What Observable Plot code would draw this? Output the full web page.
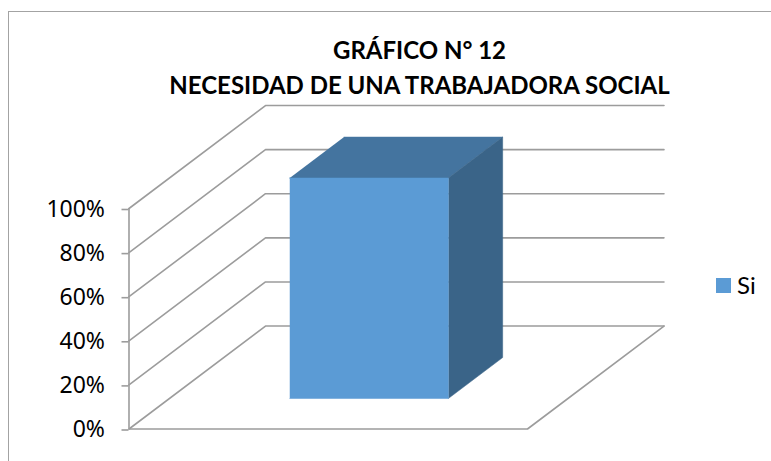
<!DOCTYPE html>
<html>
<head>
<meta charset="utf-8">
<script src="https://cdn.jsdelivr.net/npm/d3@7"></script>
<script src="https://cdn.jsdelivr.net/npm/@observablehq/plot@0.6"></script>
<style>
  html, body { margin: 0; padding: 0; background: #fff; overflow: hidden; }
  #chart { position: relative; width: 771px; height: 461px; font-family: Lato, sans-serif; color: #000; }
  #border { position: absolute; left: 8px; top: 11px; right: -5px; bottom: -5px; border-left: 1.4px solid #a3a3a3; border-top: 1.4px solid #a3a3a3; }
  #title { position: relative; height: 90px; box-sizing: border-box; padding-top: 32px; width: 839px; text-align: center; font-weight: 700; font-size: 24px; line-height: 35px; white-space: nowrap; }
  #legend { position: absolute; left: 716px; top: 270px; display: flex; align-items: center; font-size: 24px; line-height: 30px; }
  #legend i { display: block; width: 15px; height: 15px; background: #5b9bd5; margin-right: 6px; }
  svg { display: block; }
</style>
</head>
<body>
<div id="chart">
  <div id="border"></div>
  <div id="title"></div>
  <div id="legend"></div>
</div>
<script>
// Chart content
const titleLines = ["GRÁFICO N° 12", "NECESIDAD DE UNA TRABAJADORA SOCIAL"];
const categories = ["Si"];
const values = [100];
const yTicks = [0, 20, 40, 60, 80, 100];
// Category band on the floor, and the bar's depth span (fractions of the 3D box)
const barLeft = 0.302, barRight = 0.7;
const depthFront = 0.296, depthBack = 0.694;
// Oblique projection: one full unit of depth, in x units and in percentage points
const depthX = 0.3425, depthY = 46.7;

const P = (x, v, d) => ({x: x + d * depthX, y: v + d * depthY});

// Walls, floor
const gridLines = yTicks.flatMap(v => [
  {v, ...P(0, v, 0)}, {v, ...P(0, v, 1)}, {v, ...P(1, v, 1)}
]);
const floorEdge = [P(0, 0, 0), P(1, 0, 0), P(1, 0, 1)];

// Bar faces
const v = values[0];
const faceFront = [P(barLeft, 0, depthFront), P(barRight, 0, depthFront), P(barRight, v, depthFront), P(barLeft, v, depthFront)];
const faceSide = [P(barRight, 0, depthFront), P(barRight, 0, depthBack), P(barRight, v, depthBack), P(barRight, v, depthFront)];
const faceTop = [P(barLeft, v, depthFront), P(barRight, v, depthFront), P(barRight, v, depthBack), P(barLeft, v, depthBack)];

const gridStyle = {x: "x", y: "y", stroke: "#9c9c9c", strokeWidth: 1.6};
const face = (d, fill) => Plot.line(d, {x: "x", y: "y", fill, stroke: fill, strokeWidth: 0.5});

const plot = Plot.plot({
  width: 771, height: 371,
  marginLeft: 128.5, marginRight: 244, marginTop: 118, marginBottom: 32.5,
  style: {background: "transparent", overflow: "visible"},
  x: {domain: [0, 1], axis: null},
  y: {domain: [0, 100]},
  marks: [
    Plot.line(gridLines, {...gridStyle, z: "v"}),
    Plot.line(floorEdge, gridStyle),
    Plot.axisY(yTicks, {
      anchor: "left", tickFormat: d => d + "%", label: null,
      tickSize: 7, tickPadding: 17, fontSize: 23, dy: 1,
      stroke: "#9c9c9c", strokeWidth: 1.6, fill: "#000"
    }),
    Plot.ruleX([0], {y1: 0, y2: 100, stroke: "#9c9c9c", strokeWidth: 1.6}),
    face(faceTop, "#44749f"),
    face(faceSide, "#3a6488"),
    face(faceFront, "#5b9bd5")
  ]
});

document.getElementById("title").innerHTML = titleLines.map(t => `<div>${t}</div>`).join("");
document.getElementById("legend").innerHTML = categories.map(c => `<i></i><span>${c}</span>`).join("");
document.getElementById("chart").appendChild(plot);
</script>
</body>
</html>
